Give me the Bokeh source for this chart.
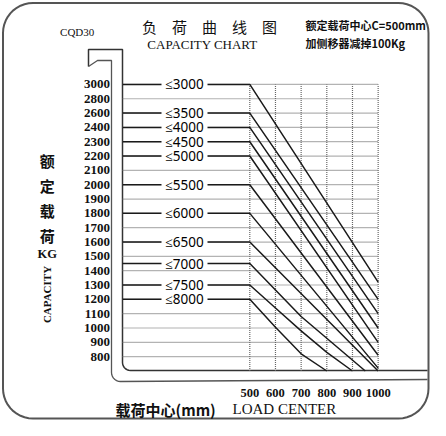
import numpy as np
from bokeh.plotting import figure
from bokeh.models import Range1d
from bokeh.core.properties import value
from bokeh.embed import file_html
from bokeh.resources import INLINE

# ---------------- data ----------------
row_values = [3000, 2800, 2600, 2400, 2300, 2200, 2100, 2000, 1900, 1800,
              1700, 1600, 1500, 1400, 1300, 1200, 1100, 1000, 900, 800]
axis_floor = 700
x_ticks = [500, 600, 700, 800, 900, 1000]

lift_labels = ["≤3000", "≤3500", "≤4000", "≤4500", "≤5000", "≤5500",
               "≤6000", "≤6500", "≤7000", "≤7500", "≤8000"]
cap_at_500 = [3000, 2600, 2400, 2300, 2200, 2000, 1800, 1600, 1450, 1300, 1200]

curve_lc = [
    [500, 1000],
    [500, 1000],
    [500, 1000],
    [500, 1000],
    [500, 1000],
    [500, 1000],
    [500, 1000],
    [500, 1000],
    [500, 700, 950],
    [500, 600, 700, 800, 900],
    [500, 600, 700, 800],
]
curve_cap = [
    [3000, 1320],
    [2600, 1200],
    [2400, 1100],
    [2300, 1000],
    [2200, 900],
    [2000, 810],
    [1800, 720],
    [1600, 700],
    [1450, 1080, 700],
    [1300, 1140, 980, 830, 700],
    [1200, 1005, 820, 700],
]

# ---------------- scales ----------------
scale_vals = [axis_floor] + row_values[::-1]
scale_idx = list(range(len(scale_vals)))


def cap2y(c):
    return np.interp(c, scale_vals, scale_idx)


def px2x(px):
    return 500 + (px - 249.3) / 0.2567


def px2y(py):
    return (370.5 - py) / 14.33


W, H = 430, 420
p = figure(width=W, height=H, output_backend="svg", toolbar_location=None,
           x_range=Range1d(px2x(0), px2x(W)), y_range=Range1d(px2y(H), px2y(0)),
           x_axis_location=None, y_axis_location=None, min_border=0)
p.xgrid.visible = False
p.ygrid.visible = False
p.outline_line_color = None
p.background_fill_color = "white"

# ---- outer rounded frame ----
def rounded_rect(x0, y0, x1, y1, r, n=12):
    pts = []
    corners = [((x0 + r, y0 + r), 180, 270), ((x1 - r, y0 + r), 270, 360),
               ((x1 - r, y1 - r), 0, 90), ((x0 + r, y1 - r), 90, 180)]
    for (cx, cy), a0, a1 in corners:
        for t in np.linspace(np.radians(a0), np.radians(a1), n):
            pts.append((cx + r * np.cos(t), cy + r * np.sin(t)))
    pts.append(pts[0])
    return [px2x(a) for a, b in pts], [px2y(b) for a, b in pts]

fx, fy = rounded_rect(2.5, 2.5, 428, 418, 30)
p.line(fx, fy, line_color="#555555", line_width=2)

# ---- fork outline ----
def arc(cx, cy, r, a0, a1, n=8):
    t = np.radians(np.linspace(a0, a1, n))
    return list(cx + r * np.cos(t)), list(cy + r * np.sin(t))

ax, ay = arc(130, 362, 8, 180, 90)
A_x = [88, 88, 122] + ax + [427]
A_y = [66, 49, 49] + ay + [370]
bx, by = arc(120, 372, 9, 180, 90)
B_x = [88, 97, 111] + bx + [427]
B_y = [66, 60, 60] + by + [379]
p.line([px2x(v) for v in A_x], [px2y(v) for v in A_y], line_color="#333333", line_width=1.5)
p.line([px2x(v) for v in B_x], [px2y(v) for v in B_y], line_color="#555555", line_width=1.3)

fork_x = px2x(122)

# ---- dotted grid ----
row_y = [cap2y(v) for v in row_values]
p.multi_line([[fork_x, x_ticks[-1]] for _ in row_y], [[y, y] for y in row_y],
             line_color="#666666", line_width=1.2, line_dash="1 1")
p.multi_line([[x, x] for x in x_ticks], [[0, cap2y(row_values[0])] for _ in x_ticks],
             line_color="#666666", line_width=1.2, line_dash="1 1")

# ---- capacity lines ----
xs, ys = [], []
for lc, cp in zip(curve_lc, curve_cap):
    xs.append([fork_x] + lc)
    ys.append([cap2y(cp[0])] + [cap2y(c) for c in cp])
p.multi_line(xs, ys, line_color="#1a1a1a", line_width=1.5)

label_x = px2x(184)
lab_y = [cap2y(c) for c in cap_at_500]
p.rect(x=[label_x] * len(lab_y), y=lab_y, width=46, height=12,
       width_units="screen", height_units="screen", fill_color="white", line_color=None)
p.text(x=[label_x] * len(lab_y), y=lab_y, text=lift_labels, text_align="center",
       text_baseline="middle", text_font=value("Noto Sans"), text_font_size="13.5px",
       text_color="#000000")

# ---- tick labels ----
p.text(x=[px2x(109.5)] * len(row_values), y=row_y, text=[str(v) for v in row_values],
       text_align="right", text_baseline="middle", text_font=value("Liberation Serif"),
       text_font_size="13px", text_font_style="bold", text_color="#111111")
p.text(x=x_ticks, y=[px2y(392)] * len(x_ticks), text=[str(v) for v in x_ticks],
       text_align="center", text_baseline="middle", text_font=value("Liberation Serif"),
       text_font_size="12.5px", text_font_style="bold", text_color="#111111")

# ---- titles & labels ----
def txt(px, py, s, font, size, align="center", style="normal", angle=0.0, lh=1.2):
    p.text(x=[px2x(px)], y=[px2y(py)], text=[s], text_align=align, text_baseline="middle",
           text_font=value(font), text_font_size=size, text_font_style=style,
           text_color="#111111", angle=angle, text_line_height=lh)

txt(76.7, 31.5, "CQD30", "Liberation Serif", "11px")
txt(209, 26, "负　荷　曲　线　图", "Noto Sans CJK SC", "15px")
txt(202, 43.5, "CAPACITY CHART", "Liberation Serif", "13px")
txt(305, 24.3, "额定载荷中心C=500mm", "Noto Sans CJK SC", "11px", align="left", style="bold")
txt(305, 42.3, "加侧移器减掉100Kg", "Noto Sans CJK SC", "11px", align="left", style="bold")
txt(46.7, 197.5, "额\n定\n载\n荷", "Noto Sans CJK SC", "15px", style="bold", lh=1.18)
txt(46.7, 253.3, "KG", "Liberation Serif", "12.5px", style="bold")
txt(46.7, 294, "CAPACITY", "Liberation Serif", "11px", style="bold", angle=np.pi / 2)
txt(115, 408.5, "载荷中心(mm)", "Noto Sans CJK SC", "15px", align="left", style="bold")
txt(232, 408.5, "LOAD CENTER", "Liberation Serif", "15px", align="left")

open("out.html", "w").write(file_html(p, INLINE))
